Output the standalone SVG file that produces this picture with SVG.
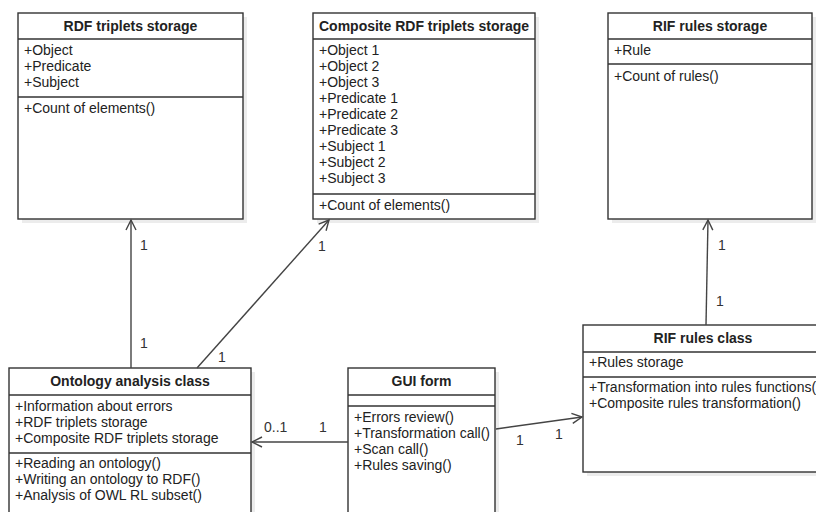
<svg xmlns="http://www.w3.org/2000/svg" width="816" height="512" viewBox="0 0 816 512">
<defs>
<style>
.box{fill:#fff;stroke:#333;stroke-width:1.4}
.shadow{fill:#ececec}
.div{stroke:#333;stroke-width:1.4}
.t{font-family:"Liberation Sans",Arial,sans-serif;font-size:14px;fill:#222}
.title{font-family:"Liberation Sans",Arial,sans-serif;font-size:14px;font-weight:bold;fill:#222;text-anchor:middle}
.edge{stroke:#444;stroke-width:1.4;fill:none;marker-end:url(#open)}
.lbl{font-family:"Liberation Sans",Arial,sans-serif;font-size:14px;fill:#333}
</style>
<marker id="open" markerUnits="userSpaceOnUse" markerWidth="14" markerHeight="14" refX="11" refY="6" orient="auto">
<path d="M1,1 L11,6 L1,11" fill="none" stroke="#444" stroke-width="1.4"/>
</marker>
</defs>
<rect width="816" height="512" fill="#fff"/>

<g id="rdf-storage">
<rect class="shadow" x="22" y="17" width="225" height="206"/>
<rect class="box" x="18" y="13" width="225" height="206"/>
<line class="div" x1="18" y1="39" x2="243" y2="39"/>
<line class="div" x1="18" y1="97" x2="243" y2="97"/>
<text class="title" x="130.5" y="31">RDF triplets storage</text>
<text class="t" x="24" y="55">+Object</text>
<text class="t" x="24" y="71">+Predicate</text>
<text class="t" x="24" y="87">+Subject</text>
<text class="t" x="24" y="113">+Count of elements()</text>
</g>

<g id="composite-storage">
<rect class="shadow" x="317" y="17" width="222" height="206"/>
<rect class="box" x="313" y="13" width="222" height="206"/>
<line class="div" x1="313" y1="39" x2="535" y2="39"/>
<line class="div" x1="313" y1="194" x2="535" y2="194"/>
<text class="title" x="424" y="31">Composite RDF triplets storage</text>
<text class="t" x="319" y="55">+Object 1</text>
<text class="t" x="319" y="71">+Object 2</text>
<text class="t" x="319" y="87">+Object 3</text>
<text class="t" x="319" y="103">+Predicate 1</text>
<text class="t" x="319" y="119">+Predicate 2</text>
<text class="t" x="319" y="135">+Predicate 3</text>
<text class="t" x="319" y="151">+Subject 1</text>
<text class="t" x="319" y="167">+Subject 2</text>
<text class="t" x="319" y="183">+Subject 3</text>
<text class="t" x="319" y="210">+Count of elements()</text>
</g>

<g id="rif-storage">
<rect class="shadow" x="612" y="17" width="204" height="206"/>
<rect class="box" x="608" y="13" width="204" height="206"/>
<line class="div" x1="608" y1="39" x2="812" y2="39"/>
<line class="div" x1="608" y1="64" x2="812" y2="64"/>
<text class="title" x="710" y="31">RIF rules storage</text>
<text class="t" x="614" y="55">+Rule</text>
<text class="t" x="614" y="81">+Count of rules()</text>
</g>

<g id="ontology-class">
<rect class="shadow" x="13" y="372" width="242" height="160"/>
<rect class="box" x="9" y="368" width="242" height="160"/>
<line class="div" x1="9" y1="395" x2="251" y2="395"/>
<line class="div" x1="9" y1="453" x2="251" y2="453"/>
<text class="title" x="130" y="386">Ontology analysis class</text>
<text class="t" x="15" y="411">+Information about errors</text>
<text class="t" x="15" y="427">+RDF triplets storage</text>
<text class="t" x="15" y="443">+Composite RDF triplets storage</text>
<text class="t" x="15" y="468">+Reading an ontology()</text>
<text class="t" x="15" y="484">+Writing an ontology to RDF()</text>
<text class="t" x="15" y="500">+Analysis of OWL RL subset()</text>
</g>

<g id="gui-form">
<rect class="shadow" x="352" y="372" width="147" height="160"/>
<rect class="box" x="348" y="368" width="147" height="160"/>
<line class="div" x1="348" y1="395" x2="495" y2="395"/>
<line class="div" x1="348" y1="406" x2="495" y2="406"/>
<text class="title" x="421.5" y="386">GUI form</text>
<text class="t" x="354" y="422">+Errors review()</text>
<text class="t" x="354" y="438">+Transformation call()</text>
<text class="t" x="354" y="454">+Scan call()</text>
<text class="t" x="354" y="470">+Rules saving()</text>
</g>

<g id="rif-class">
<rect class="shadow" x="587" y="329" width="250" height="147"/>
<rect class="box" x="583" y="325" width="250" height="147"/>
<line class="div" x1="583" y1="352" x2="833" y2="352"/>
<line class="div" x1="583" y1="377" x2="833" y2="377"/>
<text class="title" x="703" y="343">RIF rules class</text>
<text class="t" x="589" y="367">+Rules storage</text>
<text class="t" x="589" y="392">+Transformation into rules functions()</text>
<text class="t" x="589" y="408">+Composite rules transformation()</text>
</g>

<g id="connectors">
<line class="edge" x1="131" y1="368" x2="131" y2="220"/>
<line class="edge" x1="197" y1="368" x2="329" y2="220"/>
<line class="edge" x1="348" y1="442" x2="252" y2="442"/>
<line class="edge" x1="496" y1="429" x2="582" y2="417"/>
<line class="edge" x1="706" y1="325" x2="708" y2="220"/>
<text class="lbl" x="140" y="250">1</text>
<text class="lbl" x="140" y="348">1</text>
<text class="lbl" x="318" y="251">1</text>
<text class="lbl" x="218" y="362">1</text>
<text class="lbl" x="264" y="432">0..1</text>
<text class="lbl" x="319" y="432">1</text>
<text class="lbl" x="516" y="445">1</text>
<text class="lbl" x="555" y="439">1</text>
<text class="lbl" x="718" y="250">1</text>
<text class="lbl" x="716" y="306">1</text>
</g>
</svg>
